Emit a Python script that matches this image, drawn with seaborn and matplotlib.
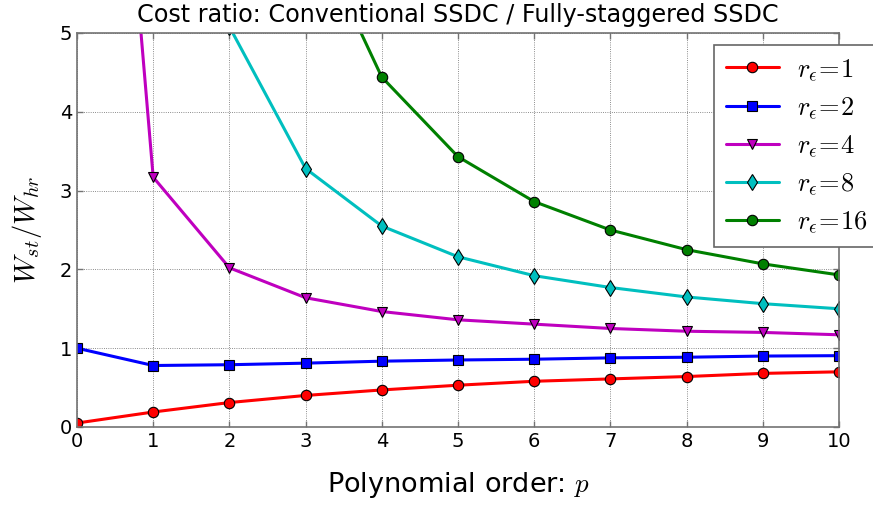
import numpy as np
import pandas as pd
import matplotlib
matplotlib.use("Agg")
import matplotlib.pyplot as plt
import seaborn as sns

p = [0, 1, 2, 3, 4, 5, 6, 7, 8, 9, 10]
r1 = [0.05, 0.19, 0.31, 0.40, 0.47, 0.53, 0.58, 0.61, 0.64, 0.68, 0.70]
r2 = [1.00, 0.78, 0.79, 0.81, 0.835, 0.85, 0.86, 0.877, 0.885, 0.90, 0.905]
r4 = [14.6, 3.17, 2.02, 1.64, 1.465, 1.36, 1.305, 1.25, 1.215, 1.20, 1.17]
r8 = [np.nan, np.nan, 5.08, 3.28, 2.55, 2.16, 1.92, 1.77, 1.65, 1.565, 1.50]
r16 = [np.nan, np.nan, np.nan, 6.5, 4.44, 3.43, 2.86, 2.50, 2.25, 2.07, 1.93]

series = [
    (r"$r_\epsilon\!=\!1$", r1, "r", "o"),
    (r"$r_\epsilon\!=\!2$", r2, "b", "s"),
    (r"$r_\epsilon\!=\!4$", r4, "m", "v"),
    (r"$r_\epsilon\!=\!8$", r8, "c", "d"),
    (r"$r_\epsilon\!=\!16$", r16, "g", "o"),
]

sns.set_style("white")
plt.rcParams["font.family"] = ["DejaVu Sans"]
plt.rcParams["mathtext.fontset"] = "cm"
plt.rcParams["text.color"] = "k"
plt.rcParams["axes.labelcolor"] = "k"

fig = plt.figure(figsize=(8.73, 5.05), dpi=100)
ax = fig.add_axes([0.0882, 0.1545, 0.8728, 0.7802])

for label, vals, col, mk in series:
    df = pd.DataFrame({"p": p, "v": vals}).dropna()
    sns.lineplot(data=df, x="p", y="v", ax=ax, color=col, marker=mk,
                 markersize=7.5 if mk != "d" else 8, markeredgecolor="k",
                 markeredgewidth=0.8, linewidth=2.2, label=label,
                 estimator=None, sort=False)

ax.set_xlim(0, 10)
ax.set_ylim(0, 5)
ax.set_xticks(range(0, 11))
ax.set_yticks(range(0, 6))
ax.grid(True, linestyle=":", color="k", linewidth=0.6, alpha=0.6)
for s in ax.spines.values():
    s.set_color("0.45")
    s.set_linewidth(1.2)
ax.tick_params(direction="in", length=4, width=1, colors="0.45",
               labelcolor="k", labelsize=14, top=True, right=True,
               bottom=True, left=True)
ax.set_title("Cost ratio: Conventional SSDC / Fully-staggered SSDC",
             fontsize=17.2, pad=8, color="k")
ax.set_xlabel("Polynomial order: $p$", fontsize=19.5, labelpad=14)
ax.set_ylabel(r"$W_{st}/W_{hr}$", fontsize=20.5, labelpad=11)

leg = ax.legend(loc="upper left", bbox_to_anchor=(0.836, 0.97),
                borderaxespad=0, numpoints=1, fontsize=19, fancybox=False,
                framealpha=1, edgecolor="0.4", handlelength=2.0,
                labelspacing=0.45, borderpad=0.45, handletextpad=0.7)
leg.get_frame().set_linewidth(1.2)
for t in leg.get_texts():
    t.set_color("k")

fig.savefig("out.png", dpi=100)
